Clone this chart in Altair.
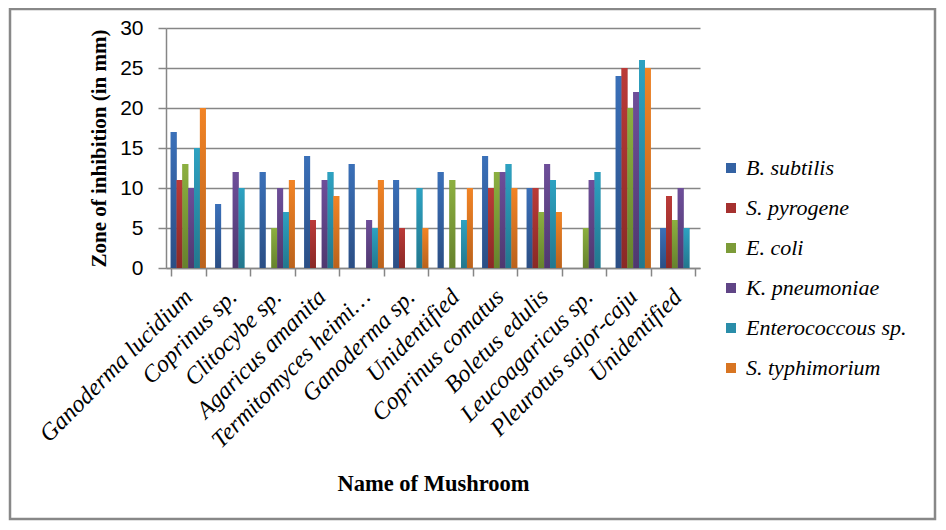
import json
import altair as alt
import pandas as pd

mushrooms = ["Ganoderma lucidium", "Coprinus sp.", "Clitocybe sp.", "Agaricus amanita",
             "Termitomyces heimi…", "Ganoderma sp.", "Unidentified", "Coprinus comatus",
             "Boletus edulis", "Leucoagaricus sp.", "Pleurotus sajor-caju", "Unidentified"]
series = ["B. subtilis", "S. pyrogene", "E. coli", "K. pneumoniae", "Enterococcous sp.", "S.  typhimorium"]

b_subtilis = [17, 8, 12, 14, 13, 11, 12, 14, 10, 0, 24, 5]
s_pyrogene = [11, 0, 0, 6, 0, 5, 0, 10, 10, 0, 25, 9]
e_coli = [13, 0, 5, 0, 0, 0, 11, 12, 7, 5, 20, 6]
k_pneumoniae = [10, 12, 10, 11, 6, 0, 0, 12, 13, 11, 22, 10]
enterococcous = [15, 10, 7, 12, 5, 10, 6, 13, 11, 12, 26, 5]
s_typhimorium = [20, 0, 11, 9, 11, 5, 10, 10, 7, 0, 25, 0]

mid_colors = ["#3462A3", "#A5312F", "#7C9B38", "#604586", "#2A8DA9", "#D87522"]
top_colors = ["#3A70B9", "#BB3A38", "#8CB040", "#6E4E9A", "#2DA2C2", "#F28425"]
bottom_colors = ["#2B4E84", "#8A2926", "#66822D", "#4F386F", "#23778D", "#BA621C"]

values_by_series = [b_subtilis, s_pyrogene, e_coli, k_pneumoniae, enterococcous, s_typhimorium]
rows = []
for s, vals in zip(series, values_by_series):
    for i, v in enumerate(vals):
        rows.append({"idx": i, "Bacteria": s, "value": v})
df = pd.DataFrame(rows)

label_expr = json.dumps(mushrooms, ensure_ascii=False) + "[datum.value]"

x_enc = alt.X("idx:O", title="Name of Mushroom",
              scale=alt.Scale(paddingInner=0.213, paddingOuter=0.1065),
              axis=alt.Axis(labelExpr=label_expr, labelAngle=-45, labelAlign="right",
                            labelBaseline="middle", labelPadding=17,
                            labelFont="Liberation Serif", labelFontStyle="italic",
                            labelFontSize=24, labelColor="#000000", labelLimit=400,
                            tickBand="extent", tickSize=8, tickColor="#868686",
                            domainColor="#868686", domainWidth=1.5, tickWidth=1.5,
                            titleFont="Liberation Serif", titleFontWeight="bold",
                            titleFontSize=22.5, titleColor="#000000",
                            titleY=215, titleBaseline="middle", grid=False,
                            labelOverlap=False))
xo_enc = alt.XOffset("Bacteria:N", scale=alt.Scale(domain=series), sort=series)
y_enc = alt.Y("value:Q", title="Zone of inhibition (in mm)",
              scale=alt.Scale(domain=[0, 30]),
              axis=alt.Axis(values=[0, 5, 10, 15, 20, 25, 30], tickSize=8,
                            tickColor="#868686", tickWidth=1.5,
                            domainColor="#868686", domainWidth=1.5,
                            gridColor="#868686", gridWidth=1.5,
                            labelFont="Liberation Sans", labelFontSize=21,
                            labelColor="#000000", labelPadding=15,
                            titleFont="Liberation Serif", titleFontWeight="bold",
                            titleFontSize=21, titleColor="#000000", titlePadding=10))

base = alt.Chart(df).mark_bar().encode(
    x=x_enc, xOffset=xo_enc, y=y_enc,
    color=alt.Color("Bacteria:N", sort=series,
                    scale=alt.Scale(domain=series, range=mid_colors),
                    legend=alt.Legend(title=None, orient="none", legendX=554, legendY=129,
                                      symbolType="square", symbolSize=100,
                                      symbolStrokeWidth=0, labelFont="Liberation Serif",
                                      labelFontStyle="italic", labelFontSize=22,
                                      labelColor="#000000", labelOffset=4,
                                      rowPadding=18, labelLimit=300)),
)

layers = [base]
for s, tc, bc in zip(series, top_colors, bottom_colors):
    grad = alt.Gradient(gradient="linear",
                        stops=[alt.GradientStop(color=tc, offset=0),
                               alt.GradientStop(color=bc, offset=1)],
                        x1=0, x2=0, y1=0, y2=1)
    layers.append(
        alt.Chart(df).transform_filter(alt.datum.Bacteria == s)
        .mark_bar(fill=grad)
        .encode(x=x_enc, xOffset=xo_enc, y=y_enc)
    )

border = alt.Chart(alt.Data(values=[{"a": 1}])).mark_rect(
    fill=None, stroke="#888888", strokeWidth=2.5
).encode(x=alt.value(-156), x2=alt.value(769), y=alt.value(-19), y2=alt.value(491))

chart = alt.layer(*layers, border).properties(
    width=534, height=240,
    autosize=alt.AutoSizeParams(type="none"),
    padding={"left": 158, "top": 20, "right": 237, "bottom": 253},
).configure(background="white", view=alt.ViewConfig(stroke=None))

chart.save("out.html", embed_options={"renderer": "svg", "actions": False})
